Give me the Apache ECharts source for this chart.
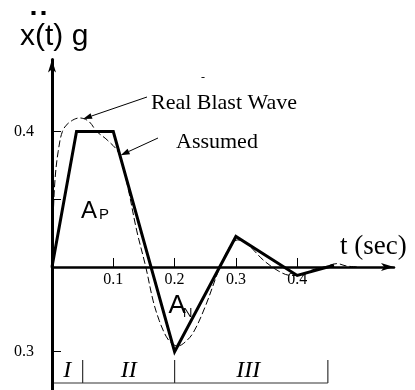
<!DOCTYPE html>
<html>
<head>
<meta charset="utf-8">
<script src="https://cdn.jsdelivr.net/npm/echarts@6/dist/echarts.min.js"></script>
<style>
  html, body { margin: 0; padding: 0; background: #fff; }
  #chart { width: 415px; height: 390px; }
</style>
</head>
<body>
<div id="chart"></div>
<script>
// Assumed piecewise-linear acceleration pulse: time (s) and acceleration (g)
const assumedT = [0, 0.04, 0.1, 0.2, 0.3, 0.4, 0.46];
const assumedG = [0, 0.4, 0.4, -0.3, 0.09, -0.03, 0.005];

// Real blast wave record: time (s) and acceleration (g)
const realT = [0, 0.002, 0.005, 0.01, 0.017, 0.027, 0.045, 0.06, 0.073, 0.09, 0.109, 0.122, 0.138, 0.153,
  0.165, 0.175, 0.186, 0.195, 0.205, 0.215, 0.23, 0.25, 0.274, 0.29, 0.303, 0.32, 0.345, 0.37, 0.39,
  0.405, 0.425, 0.445, 0.465, 0.48, 0.5];
const realG = [0, 0.15, 0.26, 0.34, 0.4, 0.425, 0.44, 0.43, 0.4, 0.375, 0.336, 0.25, 0.109, 0,
  -0.12, -0.19, -0.245, -0.27, -0.28, -0.27, -0.234, -0.14, 0, 0.06, 0.08, 0.065, 0.02, -0.015, -0.03,
  -0.03, -0.01, 0, 0.01, 0.003, 0];

// Axis ticks
const xTickValues = [0.1, 0.2, 0.3, 0.4];
const yTickValues = [0.4, 0.2, -0.3];
const yLabelValues = [0.4, -0.3];

// Phase boundaries along the time axis and their names
const phaseEdges = [0, 0.05, 0.2, 0.45];
const phaseNames = ['I', 'II', 'III'];

// The negative half of the vertical axis is drawn compressed
const NEG_SCALE = 0.25 / 0.3;
const toAxis = g => (g < 0 ? g * NEG_SCALE : g);
const fromAxis = v => (v < 0 ? v / NEG_SCALE : v);

const SERIF = 'Liberation Serif';
const SANS = 'Liberation Sans';

// Vertical range of the plot in axis units; the time axis sits at zero
const Y_MIN = -0.3631, Y_MAX = 0.6125;
const GRID_TOP = 59.5, GRID_H = 330.5;
const zeroOffset = GRID_H * (0 - Y_MIN) / (Y_MAX - Y_MIN);

const chart = echarts.init(document.getElementById('chart'), null, { renderer: 'canvas' });

chart.setOption({
  animation: false,
  backgroundColor: '#fff',
  grid: { left: 52, top: GRID_TOP, width: 342, height: GRID_H, outerBoundsMode: 'none', containLabel: false },
  xAxis: {
    type: 'value', min: 0, max: 342 / 613, position: 'bottom', offset: -zeroOffset,
    axisLine: { onZero: false, lineStyle: { color: '#000', width: 2.5 },
      symbol: ['none', 'arrow'], symbolSize: [6, 13] },
    axisTick: { inside: true, length: 9, customValues: xTickValues, lineStyle: { color: '#000', width: 1 } },
    axisLabel: { customValues: xTickValues, margin: 5, color: '#000', fontFamily: SERIF, fontSize: 16,
      formatter: v => v.toFixed(1) },
    splitLine: { show: false }
  },
  yAxis: {
    type: 'value', min: Y_MIN, max: Y_MAX,
    axisLine: { onZero: false, lineStyle: { color: '#000', width: 3 },
      symbol: ['none', 'arrow'], symbolSize: [6, 13] },
    axisTick: { inside: true, length: 9, customValues: yTickValues.map(toAxis), lineStyle: { color: '#000', width: 1 } },
    axisLabel: { customValues: yLabelValues.map(toAxis), margin: 18, color: '#000', fontFamily: SERIF, fontSize: 16,
      formatter: v => Math.abs(fromAxis(v)).toFixed(1) },
    splitLine: { show: false }
  },
  series: [
    {
      name: 'Real Blast Wave', type: 'line', smooth: 0.35, symbol: 'none', z: 3,
      lineStyle: { color: '#000', width: 1, type: [7, 3] },
      data: realT.map((t, i) => [t, toAxis(realG[i])])
    },
    {
      name: 'Assumed', type: 'line', symbol: 'none', z: 4,
      lineStyle: { color: '#000', width: 3, join: 'miter' },
      data: assumedT.map((t, i) => [t, toAxis(assumedG[i])])
    }
  ]
});

const px = (t, g) => chart.convertToPixel({ gridIndex: 0 }, [t, toAxis(g)]);

function arrow(x1, y1, x2, y2, len, half) {
  const a = Math.atan2(y2 - y1, x2 - x1);
  const bx = x2 - len * Math.cos(a), by = y2 - len * Math.sin(a);
  const nx = -Math.sin(a) * half, ny = Math.cos(a) * half;
  return [
    { type: 'line', shape: { x1, y1, x2: bx, y2: by }, style: { stroke: '#000', lineWidth: 1 } },
    { type: 'polygon', shape: { points: [[x2, y2], [bx + nx, by + ny], [bx - nx, by - ny]] }, style: { fill: '#000' } }
  ];
}

const g = [];

// Vertical axis title with the double dot of the second derivative
g.push({ type: 'rect', shape: { x: 31.5, y: 11, width: 4, height: 4 }, style: { fill: '#000' } });
g.push({ type: 'rect', shape: { x: 41.5, y: 11, width: 4, height: 4 }, style: { fill: '#000' } });
g.push({ type: 'text', x: 20, y: 37, style: { text: 'x(t) g', font: `30px "${SANS}"`, fill: '#000',
  textAlign: 'left', textVerticalAlign: 'middle' } });

// Horizontal axis title
g.push({ type: 'text', x: 340, y: 247, style: { text: 't (sec)', font: `27px "${SERIF}"`, fill: '#000',
  textAlign: 'left', textVerticalAlign: 'middle' } });

// Curve annotations
g.push({ type: 'text', x: 203, y: 78, style: { text: '-', font: `12px "${SERIF}"`, fill: '#000',
  textAlign: 'center', textVerticalAlign: 'middle' } });
g.push({ type: 'text', x: 151, y: 103, style: { text: 'Real Blast Wave', font: `22px "${SERIF}"`, fill: '#000',
  textAlign: 'left', textVerticalAlign: 'middle' } });
g.push({ type: 'text', x: 176, y: 142, style: { text: 'Assumed', font: `22px "${SERIF}"`, fill: '#000',
  textAlign: 'left', textVerticalAlign: 'middle' } });

const realTip = px(0.0506, 0.437);
g.push(...arrow(147, 97, realTip[0], realTip[1], 9, 3));
const assumedTip = px(0.112, 0.33);
g.push(...arrow(158, 138, assumedTip[0], assumedTip[1], 9, 3));

// Area labels
g.push({ type: 'text', x: 81, y: 211.5, style: { text: 'A', font: `24px "${SANS}"`, fill: '#000',
  textAlign: 'left', textVerticalAlign: 'middle' } });
g.push({ type: 'text', x: 99, y: 215, style: { text: 'P', font: `15px "${SANS}"`, fill: '#000',
  textAlign: 'left', textVerticalAlign: 'middle' } });
g.push({ type: 'text', x: 168.5, y: 306, style: { text: 'A', font: `26px "${SANS}"`, fill: '#000',
  textAlign: 'left', textVerticalAlign: 'middle' } });
g.push({ type: 'text', x: 183, y: 313.5, style: { text: 'N', font: `13px "${SANS}"`, fill: '#000',
  textAlign: 'left', textVerticalAlign: 'middle' } });

// Phase bracket below the plot
const yBase = 383, yTop = 360;
const edgeX = phaseEdges.map(t => px(t, 0)[0]);
g.push({ type: 'line', shape: { x1: edgeX[0], y1: yBase, x2: edgeX[edgeX.length - 1], y2: yBase },
  style: { stroke: '#333', lineWidth: 1.2 } });
edgeX.slice(1).forEach(x => g.push({ type: 'line', shape: { x1: x, y1: yTop, x2: x, y2: yBase },
  style: { stroke: '#333', lineWidth: 1.2 } }));
phaseNames.forEach((name, i) => g.push({ type: 'text', x: (edgeX[i] + edgeX[i + 1]) / 2 - (i === 2 ? 3 : 0), y: 371,
  style: { text: name, font: `italic 24px "${SERIF}"`, fill: '#000', textAlign: 'center', textVerticalAlign: 'middle' } }));

chart.setOption({ graphic: { elements: g } });
</script>
</body>
</html>
